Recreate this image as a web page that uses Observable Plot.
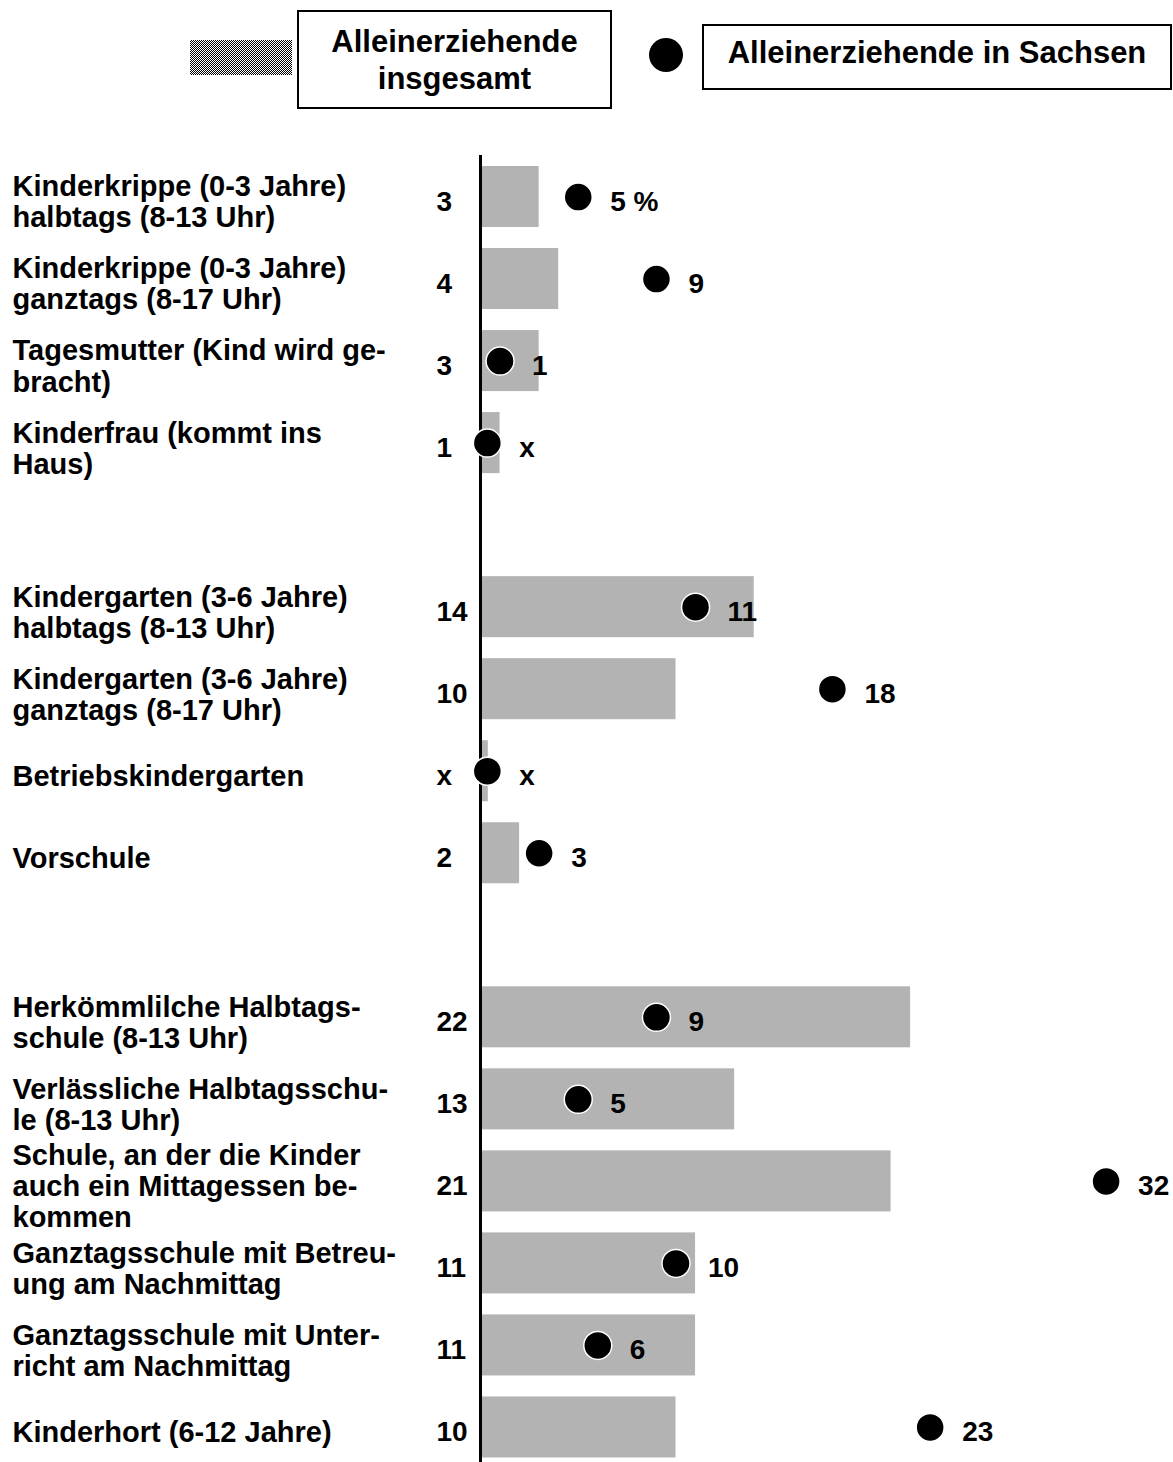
<!DOCTYPE html>
<html><head><meta charset="utf-8">
<script src="https://cdn.jsdelivr.net/npm/d3@7"></script>
<script src="https://cdn.jsdelivr.net/npm/@observablehq/plot@0.6"></script>
<style>
body{margin:0;background:#fff;font-family:"Liberation Sans",Arial,sans-serif;font-weight:bold;color:#000;}
#legend{position:relative;width:1173px;height:150px;}
#swatch{position:absolute;left:190px;top:40px;width:102px;height:35px;
  background-image:repeating-conic-gradient(#000 0 25%,#fff 0 50%);background-size:2px 2px;}
#box1{position:absolute;left:297px;top:10px;width:311px;height:95px;border:2px solid #000;
  display:flex;align-items:center;justify-content:center;text-align:center;font-size:31px;line-height:37px;}
#dot{position:absolute;left:649px;top:38px;width:34px;height:34px;border-radius:50%;background:#000;}
#box2{position:absolute;left:702px;top:24px;width:466px;height:62px;border:2px solid #000;
  display:flex;align-items:flex-start;justify-content:center;font-size:31px;}
#box2 span{margin-top:9px;}
#chart svg{display:block;}
</style></head><body>
<div id="legend">
  <div id="swatch"></div>
  <div id="box1"><div>Alleinerziehende<br>insgesamt</div></div>
  <div id="dot"></div>
  <div id="box2"><span>Alleinerziehende in Sachsen</span></div>
</div>
<div id="chart"></div>
<script>
const labels = [
  "Kinderkrippe (0-3 Jahre)\nhalbtags (8-13 Uhr)",
  "Kinderkrippe (0-3 Jahre)\nganztags (8-17 Uhr)",
  "Tagesmutter (Kind wird ge-\nbracht)",
  "Kinderfrau (kommt ins\nHaus)",
  "Kindergarten (3-6 Jahre)\nhalbtags (8-13 Uhr)",
  "Kindergarten (3-6 Jahre)\nganztags (8-17 Uhr)",
  "Betriebskindergarten",
  "Vorschule",
  "Herkömmlilche Halbtags-\nschule (8-13 Uhr)",
  "Verlässliche Halbtagsschu-\nle (8-13 Uhr)",
  "Schule, an der die Kinder\nauch ein Mittagessen be-\nkommen",
  "Ganztagsschule mit Betreu-\nung am Nachmittag",
  "Ganztagsschule mit Unter-\nricht am Nachmittag",
  "Kinderhort (6-12 Jahre)"
];
const groups = [1,1,1,1,2,2,2,2,3,3,3,3,3,3];
const insgesamt = [3,4,3,1,14,10,0.4,2,22,13,21,11,11,10];
const insgesamtText = ["3","4","3","1","14","10","x","2","22","13","21","11","11","10"];
const sachsen = [5,9,1,0.35,11,18,0.35,3,9,5,32,10,6,23];
const sachsenText = ["5 %","9","1","x","11","18","x","3","9","5","32","10","6","23"];

const rows = labels.map((label, i) => ({
  id: "r" + i, label, group: groups[i],
  total: insgesamt[i], totalText: insgesamtText[i],
  sachsen: sachsen[i], sachsenText: sachsenText[i]
}));
// y domain: rows with one empty slot between groups
const domain = [];
rows.forEach((r, i) => {
  if (i > 0 && groups[i] !== groups[i - 1]) domain.push("gap" + groups[i]);
  domain.push(r.id);
});

const font = "Liberation Sans, Arial, sans-serif";
const step = 82.03;
const chart = Plot.plot({
  width: 1173,
  height: 1312,
  marginTop: 5, marginBottom: 0, marginLeft: 12, marginRight: 0,
  style: {fontFamily: font, fontWeight: "bold", background: "#fff", overflow: "visible"},
  x: {domain: [0, 35], range: [480, 480 + 35 * 19.55], axis: null},
  y: {domain, range: [5.5, 5.5 + domain.length * step], round: false, paddingInner: 0.256, paddingOuter: 0.128, axis: null},
  marks: [
    Plot.barX(rows, {x: "total", y: "id", fill: "#b3b3b3"}),
    Plot.ruleX([0], {stroke: "#000", strokeWidth: 3}),
    Plot.dot(rows, {x: "sachsen", y: "id", r: 14, fill: "#000", stroke: "#fff", strokeWidth: 1.5}),
    Plot.text(rows, {y: "id", text: "label", frameAnchor: "left", textAnchor: "start", dy: 5,
      fontSize: 29, lineHeight: 1.07, fill: "#000"}),
    Plot.text(rows, {x: () => 0, y: "id", text: "totalText", dx: -44, dy: 5, textAnchor: "start",
      fontSize: 28, fill: "#000"}),
    Plot.text(rows, {x: "sachsen", y: "id", text: "sachsenText", dx: 32, dy: 5, textAnchor: "start",
      fontSize: 28, fill: "#000"})
  ]
});
document.getElementById("chart").appendChild(chart);
</script>
</body></html>
